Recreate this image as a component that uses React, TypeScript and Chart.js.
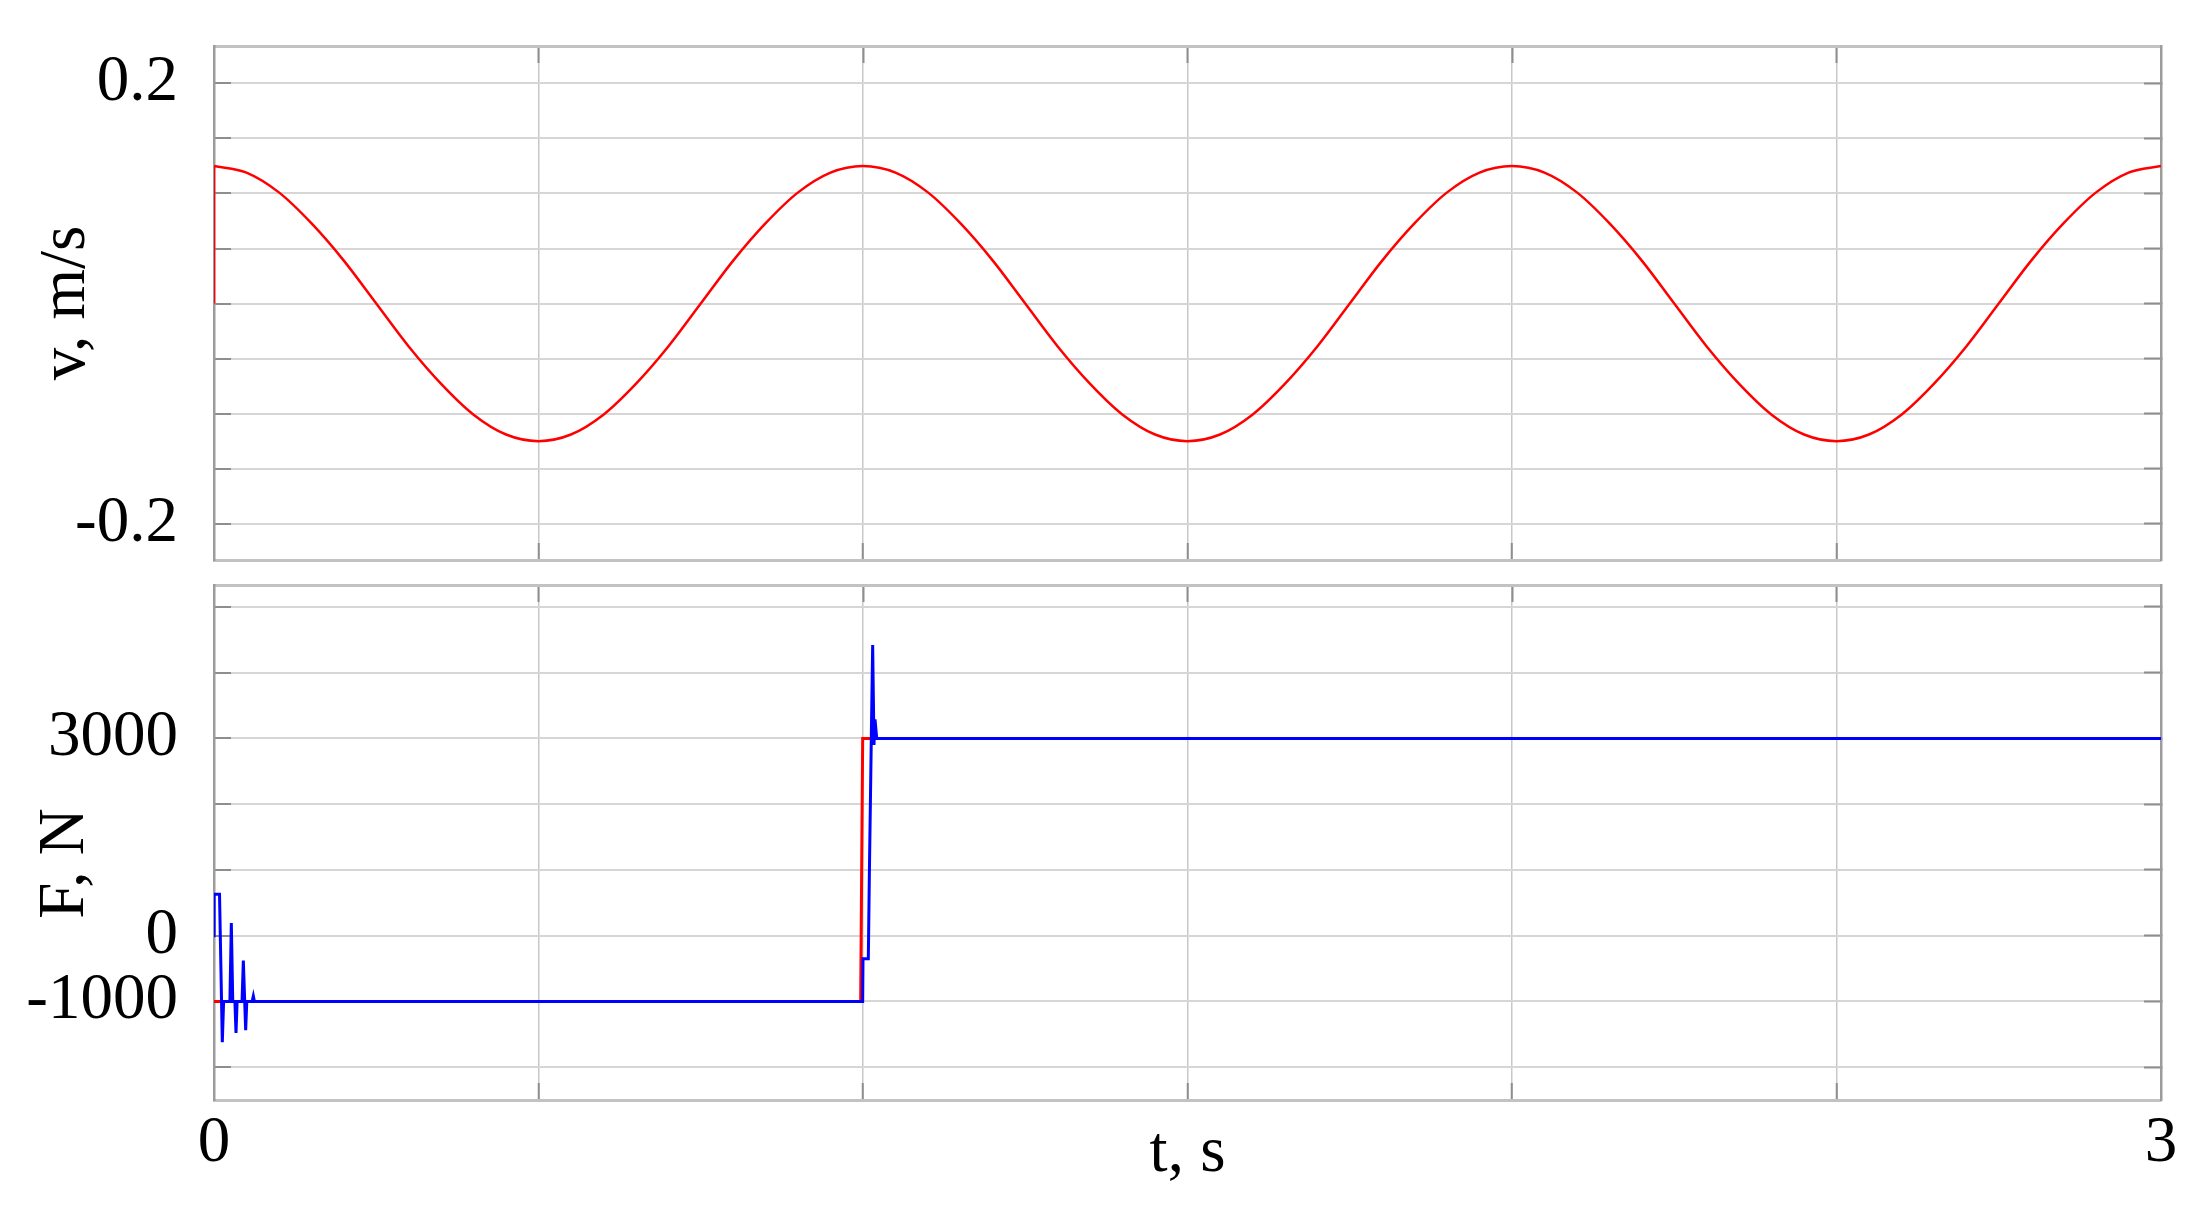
import React, { useEffect, useRef } from 'react';
import { Chart, registerables } from 'chart.js';

Chart.register(...registerables);

// ---------- data ----------
const vTime = [
  0, 0.05, 0.1, 0.15, 0.2, 0.25, 0.3, 0.35, 0.4, 0.45, 0.5, 0.55, 0.6, 0.65, 0.7, 0.75, 0.8, 0.85, 0.9, 0.95,
  1, 1.05, 1.1, 1.15, 1.2, 1.25, 1.3, 1.35, 1.4, 1.45, 1.5, 1.55, 1.6, 1.65, 1.7, 1.75, 1.8, 1.85, 1.9, 1.95,
  2, 2.05, 2.1, 2.15, 2.2, 2.25, 2.3, 2.35, 2.4, 2.45, 2.5, 2.55, 2.6, 2.65, 2.7, 2.75, 2.8, 2.85, 2.9, 2.95, 3,
];
const vValues = [
  0.125, 0.119, 0.101, 0.073, 0.039, 0, -0.039, -0.073, -0.101, -0.119, -0.125, -0.119, -0.101, -0.073, -0.039, 0, 0.039, 0.073, 0.101, 0.119,
  0.125, 0.119, 0.101, 0.073, 0.039, 0, -0.039, -0.073, -0.101, -0.119, -0.125, -0.119, -0.101, -0.073, -0.039, 0, 0.039, 0.073, 0.101, 0.119,
  0.125, 0.119, 0.101, 0.073, 0.039, 0, -0.039, -0.073, -0.101, -0.119, -0.125, -0.119, -0.101, -0.073, -0.039, 0, 0.039, 0.073, 0.101, 0.119, 0.125,
];
// initial step of the velocity at t = 0
const vStartTime = [0, 0];
const vStartValues = [0, 0.125];

// reference force (red)
const fRefTime = [0, 0.9964, 0.9995, 3];
const fRefValues = [-1000, -1000, 3000, 3000];

// actual force (blue)
const fTime = [
  0, 0.0002, 0.0085, 0.0128, 0.0148, 0.0245, 0.0267, 0.0289, 0.0322, 0.0339, 0.0356, 0.0432, 0.0452, 0.0488, 0.0505,
  0.0588, 0.0606, 0.0622, 0.9995, 1.0, 1.0082, 1.0098, 1.0128, 1.0149, 1.0169, 1.0185, 1.0211, 3,
];
const fValues = [
  0, 630, 630, -1620, -1000, -1000, 190, -1000, -1000, -1480, -1000, -1000, -380, -1440, -1000,
  -1000, -920, -1000, -1000, -350, -350, 930, 3000, 4420, 2900, 3290, 3000, 3000,
];

// axes
const tRange = [0, 3];
const tGrid = [0, 0.5, 1, 1.5, 2, 2.5, 3];
const tTickLabels = [0, 3];
const vRange = [-0.233, 0.234];
const vGrid = [-0.2, -0.15, -0.1, -0.05, 0, 0.05, 0.1, 0.15, 0.2];
const vTickLabels = [0.2, -0.2];
const fRange = [-2500, 5333];
const fGrid = [-2000, -1000, 0, 1000, 2000, 3000, 4000, 5000];
const fTickLabels = [3000, 0, -1000];

// ---------- styling ----------
const SERIF = "'Liberation Serif', 'Times New Roman', Times, serif";
const FONT_SIZE = 65;
const GRID = '#d6d6d6';
const VGRID = '#c8c8c8';
const STUB = '#8e8e8e';
const HBORDER = '#c2c2c2';
const VBORDER = '#9c9c9c';
const STUB_LEN = -17;

const W = 2205;
const TOP_H = 572;
const BOTTOM_H = 651;

const isEdge = (v: number, range: number[]) =>
  Math.abs(v - range[0]) < 1e-9 || Math.abs(v - range[1]) < 1e-9;

const edgeColor = (range: number[], color: string) => (ctx: any) =>
  ctx.tick && isEdge(ctx.tick.value, range) ? 'rgba(0,0,0,0)' : color;

const labelFrom = (list: number[]) => (value: any) => {
  const hit = list.find((v) => Math.abs(v - Number(value)) < 1e-6);
  return hit === undefined ? '' : String(hit);
};

const ticksFrom = (values: number[]) => (s: any) => {
  s.ticks = values.map((value) => ({ value }));
};

const toXY = (xs: number[], ys: number[]) => xs.map((x, i) => ({ x, y: ys[i] }));

function xAxis(showLabels: boolean, height: number) {
  return {
    type: 'linear',
    position: 'bottom',
    min: tRange[0],
    max: tRange[1],
    afterBuildTicks: ticksFrom(tGrid),
    ticks: {
      display: showLabels,
      autoSkip: false,
      maxRotation: 0,
      minRotation: 0,
      padding: 22,
      color: '#000',
      font: { family: SERIF, size: FONT_SIZE },
      callback: labelFrom(tTickLabels),
    },
    grid: {
      color: edgeColor(tRange, VGRID),
      lineWidth: 1.5,
      drawTicks: true,
      tickLength: STUB_LEN,
      tickColor: edgeColor(tRange, STUB),
      tickWidth: 2,
    },
    border: { display: true, color: HBORDER, width: 3 },
    title: showLabels
      ? { display: true, text: 't, s', color: '#000', font: { family: SERIF, size: FONT_SIZE }, padding: { top: 0, bottom: 0 } }
      : { display: false },
    afterFit: (s: any) => {
      s.height = height;
      s.paddingLeft = 0;
      s.paddingRight = 0;
    },
  };
}

function x2Axis() {
  return {
    type: 'linear',
    position: 'top',
    min: tRange[0],
    max: tRange[1],
    afterBuildTicks: ticksFrom(tGrid),
    ticks: { display: false, autoSkip: false },
    grid: {
      drawOnChartArea: false,
      drawTicks: true,
      tickLength: STUB_LEN,
      tickColor: edgeColor(tRange, STUB),
      tickWidth: 2,
    },
    border: { display: true, color: HBORDER, width: 3 },
    afterFit: (s: any) => {
      s.height = 0;
    },
  };
}

function yAxis(range: number[], grid: number[], labels: number[], title: string | null) {
  return {
    type: 'linear',
    position: 'left',
    min: range[0],
    max: range[1],
    afterBuildTicks: ticksFrom(grid),
    ticks: {
      autoSkip: false,
      padding: 53,
      color: '#000',
      font: { family: SERIF, size: FONT_SIZE },
      callback: labelFrom(labels),
    },
    grid: {
      color: GRID,
      lineWidth: 2,
      drawTicks: true,
      tickLength: STUB_LEN,
      tickColor: STUB,
      tickWidth: 2,
    },
    border: { display: true, color: VBORDER, width: 2.5 },
    title: title
      ? { display: true, text: title, color: '#000', font: { family: SERIF, size: FONT_SIZE }, padding: { top: 28, bottom: 0 } }
      : { display: false },
    afterFit: (s: any) => {
      s.width = 214;
      s.paddingTop = 0;
      s.paddingBottom = 0;
    },
  };
}

function y2Axis(range: number[], grid: number[]) {
  return {
    type: 'linear',
    position: 'right',
    min: range[0],
    max: range[1],
    afterBuildTicks: ticksFrom(grid),
    ticks: { display: false, autoSkip: false },
    grid: {
      drawOnChartArea: false,
      drawTicks: true,
      tickLength: STUB_LEN,
      tickColor: STUB,
      tickWidth: 2,
    },
    border: { display: true, color: VBORDER, width: 2.5 },
    afterFit: (s: any) => {
      s.width = 30;
    },
  };
}

// draws the rotated "F, N" axis title (it sits slightly below the panel centre in the original)
const forceTitlePlugin = {
  id: 'forceTitle',
  afterDraw(chart: any) {
    const { ctx, chartArea } = chart;
    ctx.save();
    ctx.fillStyle = '#000';
    ctx.font = `${FONT_SIZE}px ${SERIF}`;
    ctx.textAlign = 'center';
    ctx.textBaseline = 'alphabetic';
    ctx.translate(83, (chartArea.top + chartArea.bottom) / 2 + 21);
    ctx.rotate(-Math.PI / 2);
    ctx.fillText('F, N', 0, 0);
    ctx.restore();
  },
};

const commonOptions = {
  responsive: false,
  maintainAspectRatio: false,
  animation: false,
  events: [],
  plugins: { legend: { display: false }, tooltip: { enabled: false }, title: { display: false } },
  elements: { point: { radius: 0 } },
};

export default function App() {
  const topRef = useRef<HTMLCanvasElement | null>(null);
  const bottomRef = useRef<HTMLCanvasElement | null>(null);

  useEffect(() => {
    const top = new Chart(topRef.current as HTMLCanvasElement, {
      type: 'line',
      data: {
        datasets: [
          {
            data: toXY(vStartTime, vStartValues),
            borderColor: '#ff0000',
            borderWidth: 2.5,
            tension: 0,
            pointRadius: 0,
          },
          {
            data: toXY(vTime, vValues),
            borderColor: '#ff0000',
            borderWidth: 2.5,
            cubicInterpolationMode: 'monotone',
            pointRadius: 0,
          },
        ],
      },
      options: {
        ...commonOptions,
        layout: { padding: { top: 46, right: 14, bottom: 12, left: 0 } },
        scales: {
          x: xAxis(false, 0),
          x2: x2Axis(),
          y: yAxis(vRange, vGrid, vTickLabels, 'v, m/s'),
          y2: y2Axis(vRange, vGrid),
        },
      } as any,
    });

    const bottom = new Chart(bottomRef.current as HTMLCanvasElement, {
      type: 'line',
      data: {
        datasets: [
          {
            data: toXY(fTime, fValues),
            borderColor: '#0000ff',
            borderWidth: 3,
            tension: 0,
            pointRadius: 0,
          },
          {
            data: toXY(fRefTime, fRefValues),
            borderColor: '#ff0000',
            borderWidth: 3,
            tension: 0,
            pointRadius: 0,
          },
        ],
      },
      options: {
        ...commonOptions,
        layout: { padding: { top: 13, right: 14, bottom: 30, left: 0 } },
        scales: {
          x: xAxis(true, 93),
          x2: x2Axis(),
          y: yAxis(fRange, fGrid, fTickLabels, null),
          y2: y2Axis(fRange, fGrid),
        },
      } as any,
      plugins: [forceTitlePlugin],
    });

    return () => {
      top.destroy();
      bottom.destroy();
    };
  }, []);

  return (
    <div style={{ position: 'absolute', left: 0, top: 0, width: W, height: TOP_H + BOTTOM_H, background: '#fff' }}>
      <canvas
        ref={topRef}
        width={W}
        height={TOP_H}
        style={{ position: 'absolute', left: 0, top: 0, width: W, height: TOP_H }}
      />
      <canvas
        ref={bottomRef}
        width={W}
        height={BOTTOM_H}
        style={{ position: 'absolute', left: 0, top: TOP_H, width: W, height: BOTTOM_H }}
      />
    </div>
  );
}
